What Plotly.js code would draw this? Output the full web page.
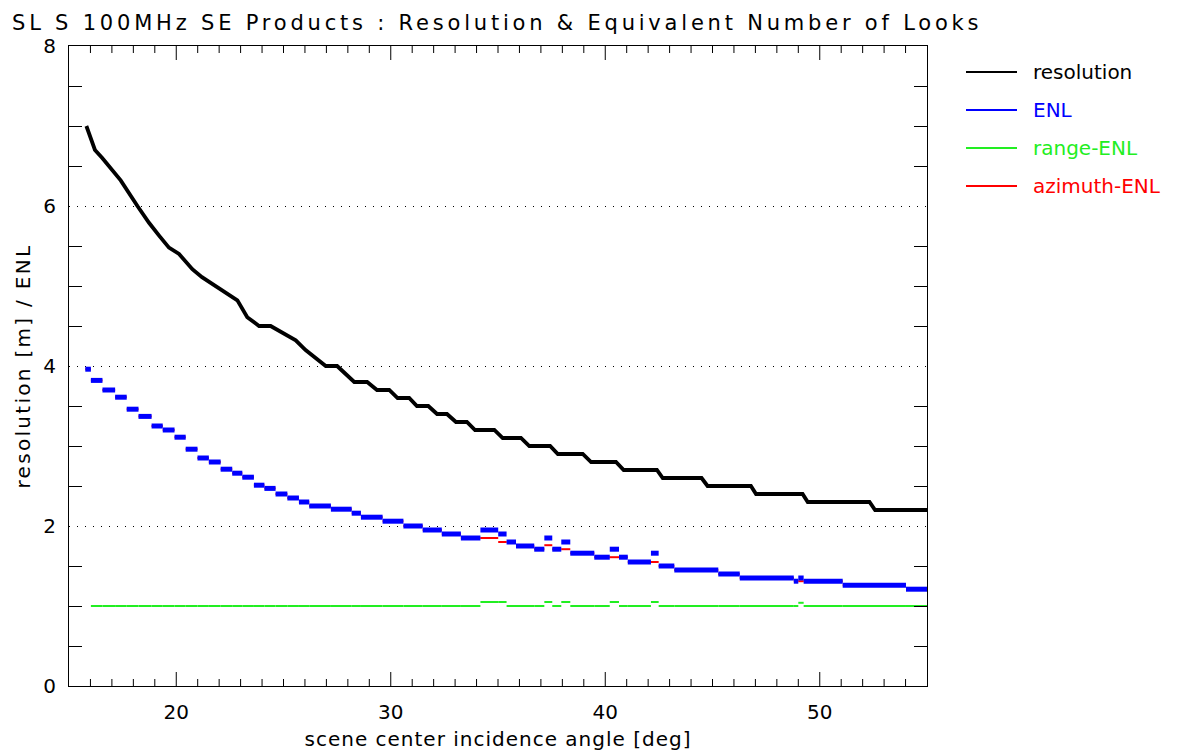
<!DOCTYPE html>
<html>
<head>
<meta charset="utf-8">
<script src="https://cdn.plot.ly/plotly-3.0.1.min.js"></script>
<style>
  html, body { margin: 0; padding: 0; background: #fff; }
  #chart { width: 1186px; height: 755px; }
  .gtitle { letter-spacing: 3.8px; }
  .xtitle { letter-spacing: 1px; }
  .ytitle { letter-spacing: 2.3px; }
</style>
</head>
<body>
<div id="chart"></div>
<script>
// ---------------- data ----------------
const chartTitle = 'SL S 100MHz SE Products : Resolution & Equivalent Number of Looks';
const xAxisTitle = 'scene center incidence angle [deg]';
const yAxisTitle = 'resolution [m] / ENL';
const seriesNames = ['resolution', 'ENL', 'range-ENL', 'azimuth-ENL'];
const seriesColors = ['#000000', '#0000ff', '#22ee22', '#ff0000'];
const xRange = [15, 55];
const yRange = [0, 8];
const xMajorTicks = [20, 30, 40, 50];

// resolution curve (angle [deg], resolution [m])
const resAngle = [15.81, 16.21, 16.55, 16.86, 17.41, 18.19, 18.73, 19.20, 19.66, 20.13,
  20.75, 21.20, 21.84, 22.46, 22.85, 23.31, 23.86, 24.40, 25.57, 26.03,
  26.97, 27.50, 28.30, 28.90, 29.36, 29.93, 30.32, 30.86, 31.22, 31.75,
  32.16, 32.62, 33.04, 33.55, 33.93, 34.83, 35.22, 36.07, 36.46, 37.43,
  37.79, 38.95, 39.34, 40.50, 40.86, 42.41, 42.68, 44.49, 44.77, 46.79,
  47.03, 49.20, 49.44, 52.32, 52.58, 55.00];
const resValue = [7.00, 6.70, 6.60, 6.50, 6.32, 6.00, 5.79, 5.63, 5.48, 5.40,
  5.21, 5.11, 5.00, 4.90, 4.82, 4.61, 4.50, 4.50, 4.32, 4.20,
  4.00, 4.00, 3.80, 3.80, 3.70, 3.70, 3.60, 3.60, 3.50, 3.50,
  3.40, 3.40, 3.30, 3.30, 3.20, 3.20, 3.10, 3.10, 3.00, 3.00,
  2.90, 2.90, 2.80, 2.80, 2.70, 2.70, 2.60, 2.60, 2.50, 2.50,
  2.40, 2.40, 2.30, 2.30, 2.20, 2.20];

// ENL steps: angle edges of each step, and the step values
const enlEdges = [15.76, 16.02, 16.56, 17.15, 17.69, 18.24, 18.85, 19.37, 19.92, 20.44,
  20.99, 21.52, 22.07, 22.61, 23.08, 23.62, 24.11, 24.63, 25.18, 25.72,
  26.20, 27.21, 28.18, 28.61, 29.62, 30.59, 31.49, 32.38, 33.27, 34.18,
  35.01, 35.40, 35.84, 36.69, 37.16, 37.53, 37.95, 38.37, 39.49, 40.21,
  40.64, 41.05, 42.13, 42.49, 43.22, 45.27, 46.27, 48.79, 49.00, 49.25,
  51.07, 54.02, 55.00];
const enlValue = [3.96, 3.82, 3.70, 3.61, 3.46, 3.37, 3.25, 3.20, 3.11, 2.96,
  2.85, 2.80, 2.71, 2.66, 2.61, 2.51, 2.47, 2.40, 2.35, 2.30,
  2.25, 2.21, 2.16, 2.11, 2.06, 2.00, 1.95, 1.90, 1.85, 1.95,
  1.90, 1.80, 1.75, 1.71, 1.85, 1.71, 1.80, 1.66, 1.61, 1.71,
  1.61, 1.55, 1.66, 1.50, 1.45, 1.40, 1.35, 1.31, 1.35, 1.31,
  1.26, 1.21];
const rangeEnlValue = [null, 1.00, 1.00, 1.00, 1.00, 1.00, 1.00, 1.00, 1.00, 1.00,
  1.00, 1.00, 1.00, 1.00, 1.00, 1.00, 1.00, 1.00, 1.00, 1.00,
  1.00, 1.00, 1.00, 1.00, 1.00, 1.00, 1.00, 1.00, 1.00, 1.05,
  1.05, 1.00, 1.00, 1.00, 1.05, 1.00, 1.05, 1.00, 1.00, 1.05,
  1.00, 1.00, 1.05, 1.00, 1.00, 1.00, 1.00, 1.00, 1.04, 1.00,
  1.00, 1.00];
const azimuthEnlValue = [3.96, 3.82, 3.70, 3.61, 3.46, 3.37, 3.25, 3.20, 3.11, 2.96,
  2.85, 2.80, 2.71, 2.66, 2.61, 2.51, 2.47, 2.40, 2.35, 2.30,
  2.25, 2.21, 2.16, 2.11, 2.06, 2.00, 1.95, 1.90, 1.85, 1.85,
  1.80, 1.80, 1.75, 1.71, 1.76, 1.71, 1.71, 1.66, 1.61, 1.61,
  1.61, 1.55, 1.55, 1.50, 1.45, 1.40, 1.35, 1.31, 1.31, 1.31,
  1.26, 1.21];

// ---------------- build ----------------
function steps(edges, vals) {
  const x = [], y = [];
  for (let i = 0; i < vals.length; i++) {
    if (vals[i] === null) continue;
    x.push(edges[i], edges[i + 1], null);
    y.push(vals[i], vals[i], null);
  }
  return { x, y };
}
const g = steps(enlEdges, rangeEnlValue);
const r = steps(enlEdges, azimuthEnlValue);
const b = steps(enlEdges, enlValue);

const traces = [
  { x: g.x, y: g.y, mode: 'lines', line: { color: seriesColors[2], width: 2 }, connectgaps: false, hoverinfo: 'skip' },
  { x: r.x, y: r.y, mode: 'lines', line: { color: seriesColors[3], width: 2 }, connectgaps: false, hoverinfo: 'skip' },
  { x: b.x, y: b.y, mode: 'lines', line: { color: seriesColors[1], width: 5 }, connectgaps: false, hoverinfo: 'skip' },
  { x: resAngle, y: resValue, mode: 'lines', line: { color: seriesColors[0], width: 3.8 }, hoverinfo: 'skip' }
];

const L = 69, T = 46, W = 858, H = 640;
const px2x = p => (p - L) / W;
const py2y = p => 1 - (p - T) / H;
const shapes = [], annotations = [];

// x-axis tick marks (bottom and top, pointing inward), placed through the x scale
const majorLen = 14 / H, minorLen = 7 / H;
for (let v = xRange[0] + 1; v < xRange[1]; v++) {
  const len = xMajorTicks.includes(v) ? majorLen : minorLen;
  shapes.push({ type: 'line', xref: 'x', yref: 'paper', x0: v, x1: v, y0: 0, y1: len, line: { color: '#000', width: 1 } });
  shapes.push({ type: 'line', xref: 'x', yref: 'paper', x0: v, x1: v, y0: 1, y1: 1 - len, line: { color: '#000', width: 1 } });
}

// legend drawn as shapes + annotations
const legendRowsPx = [72, 110, 148, 186];
seriesNames.forEach((name, i) => {
  shapes.push({ type: 'line', xref: 'paper', yref: 'paper',
    x0: px2x(966), x1: px2x(1017), y0: py2y(legendRowsPx[i]), y1: py2y(legendRowsPx[i]),
    line: { color: seriesColors[i], width: 2 } });
  annotations.push({ xref: 'paper', yref: 'paper', x: px2x(1031), y: py2y(legendRowsPx[i]),
    xanchor: 'left', yanchor: 'middle', showarrow: false, text: name,
    font: { size: 20, color: seriesColors[i], family: 'DejaVu Sans' } });
});

const layout = {
  width: 1186, height: 755,
  margin: { l: L, r: 1186 - L - W, t: T, b: 755 - T - H, pad: 0 },
  paper_bgcolor: '#fff', plot_bgcolor: '#fff',
  font: { family: 'DejaVu Sans', color: '#000', size: 20 },
  showlegend: false,
  title: { text: chartTitle, xref: 'container', yref: 'container', x: 12 / 1186, xanchor: 'left',
    y: 1 - 15.5 / 755, yanchor: 'top', font: { size: 21, color: '#000' } },
  xaxis: {
    range: xRange, tickmode: 'array', tickvals: xMajorTicks,
    showline: true, linecolor: '#000', linewidth: 1, mirror: true,
    ticks: '', zeroline: false, showgrid: false,
    tickfont: { size: 20, color: '#000', family: 'DejaVu Sans' },
    ticklabelstandoff: 8,
    title: { text: xAxisTitle, font: { size: 20 }, standoff: 8 }
  },
  yaxis: {
    range: yRange, tickmode: 'linear', tick0: 0, dtick: 2,
    showline: true, linecolor: '#000', linewidth: 1, mirror: 'ticks',
    ticks: 'inside', ticklen: 0, tickcolor: '#000', tickwidth: 1,
    zeroline: false,
    showgrid: true, gridcolor: '#000', gridwidth: 1, griddash: '1px,7px',
    tickfont: { size: 20, color: '#000', family: 'DejaVu Sans' },
    ticklabelstandoff: 8,
    minor: { tickmode: 'linear', dtick: 0.5, tick0: 0, ticklen: 13, ticks: 'inside', tickcolor: '#000', tickwidth: 1, showgrid: false },
    title: { text: yAxisTitle, font: { size: 20 }, standoff: 7 }
  },
  shapes, annotations
};

Plotly.newPlot('chart', traces, layout, { displayModeBar: false, staticPlot: true });
</script>
</body>
</html>
